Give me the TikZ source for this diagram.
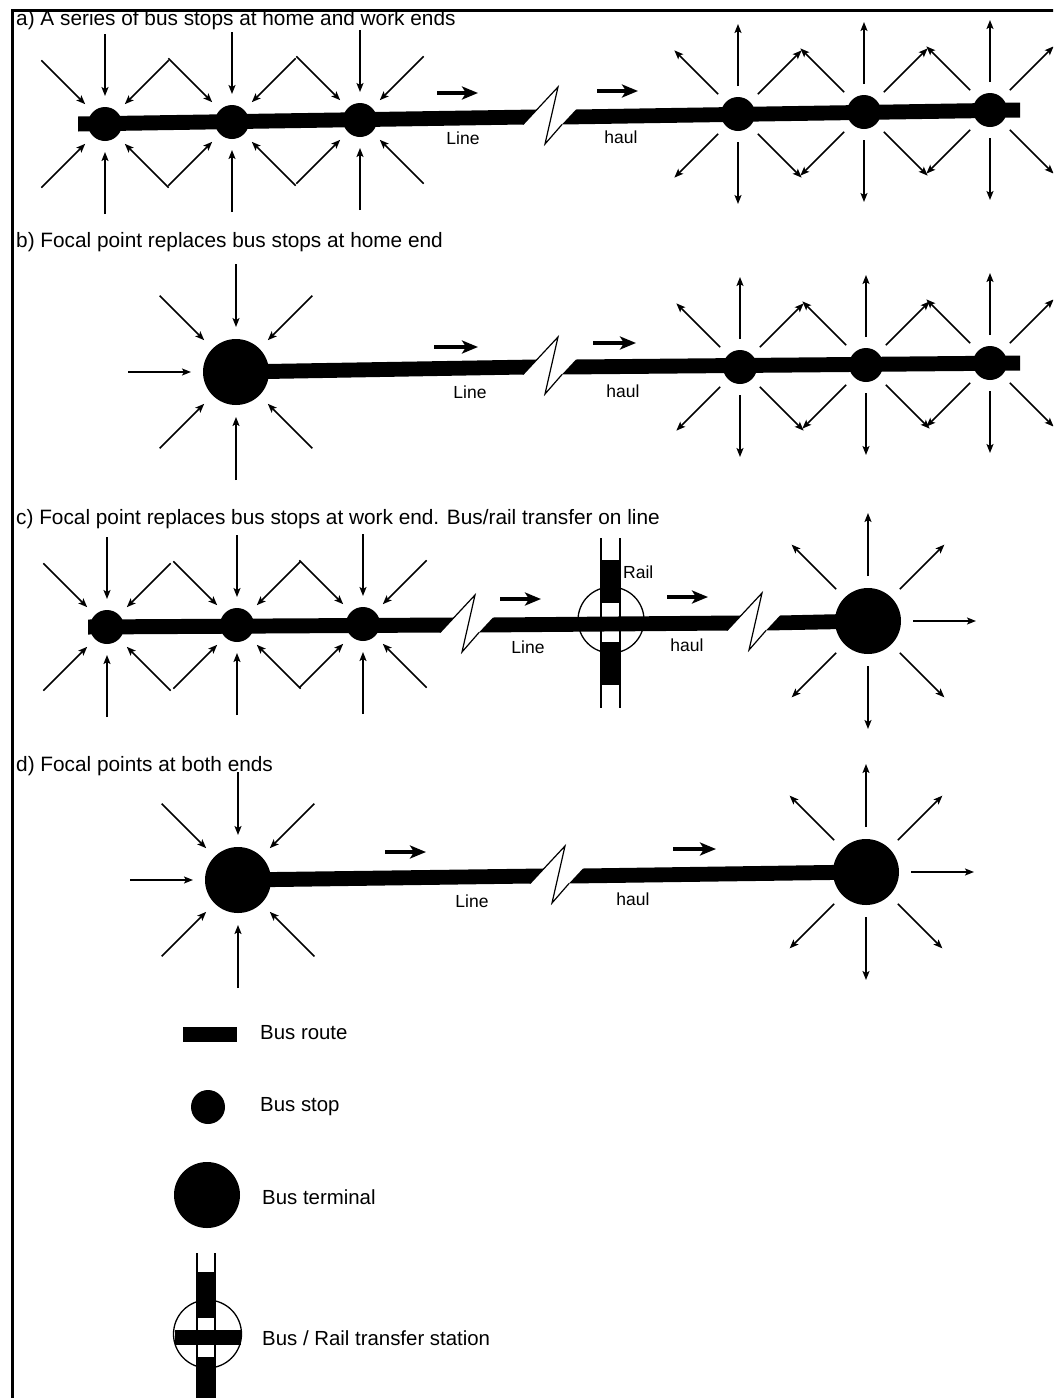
\documentclass[tikz,border=0pt]{standalone}
\usepackage{fontspec}
\setmainfont{Liberation Sans}
\usetikzlibrary{arrows.meta,calc}
\newcommand\spkin[4]{\foreach \a in {#2}{\draw[spoke] ($(#1)+(\a:#4)$) -- ($(#1)+(\a:#3)$);}}
\newcommand\spkout[4]{\foreach \a in {#2}{\draw[spoke] ($(#1)+(\a:#3)$) -- ($(#1)+(\a:#4)$);}}
% left piece ending at break: x0,y0,cx,y
\newcommand\leftpiece[4]{\fill (#1,#2-7.5) -- (#3-12,#4-7.5) -- (#3-26,#4+7.5) -- (#1,#2+7.5) -- cycle;}
% right piece starting at break: cx,y,x1,y1
\newcommand\rightpiece[4]{\fill (#1+27,#2-7.5) -- (#3,#4-7.5) -- (#3,#4+7.5) -- (#1+13,#2+7.5) -- cycle;}
% middle piece between two breaks: cx1,y1,cx2,y2
\newcommand\midpiece[4]{\fill (#1+27,#2-7.5) -- (#3-12,#4-7.5) -- (#3-26,#4+7.5) -- (#1+13,#2+7.5) -- cycle;}
% zigzag break symbol: cx,y
\newcommand\zigbreak[2]{\draw[zig] (#1-26,#2+7.5) -- (#1+9,#2-30) -- (#1-4,#2+27) -- (#1+13,#2+7.5);}
\begin{document}
\begin{tikzpicture}[x=1pt,y=-1pt,
  spoke/.style={line width=1.5pt,-{Stealth[length=9pt,width=7pt,inset=2pt]}},
  flow/.style={line width=4.5pt,-{Stealth[length=16pt,width=13pt,inset=4pt]}},
  stop/.style={circle,fill=black,inner sep=0pt,minimum size=34pt},
  terminal/.style={circle,fill=black,inner sep=0pt,minimum size=66pt},
  title/.style={anchor=base west,inner sep=0pt,font=\fontsize{20.8}{24}\selectfont},
  lbl/.style={inner sep=0pt,font=\fontsize{17.5}{20}\selectfont},
  legtext/.style={anchor=west,inner sep=0pt,font=\fontsize{20.4}{24}\selectfont},
  zig/.style={line width=1.2pt,line join=miter},
  rail/.style={line width=1.5pt},
]
\useasboundingbox (0,0) rectangle (1053,1398);
\clip (0,0) rectangle (1053,1398);
\fill[white] (0,0) rectangle (1053,1398);

% frame
\draw[line width=3pt] (12,1400) -- (12,10) -- (1055,10);

% ---------------- panel a ----------------
\node[title] (ta) at (16,25) {a) A series of bus stops at home and work ends};
\leftpiece{78}{124}{549}{117}
\zigbreak{549}{117}
\rightpiece{549}{117}{1020}{110}
\node[stop] (a1) at (105,124) {};
\node[stop] (a2) at (232,122) {};
\node[stop] (a3) at (360,120) {};
\node[stop] (a4) at (738,114) {};
\node[stop] (a5) at (864,112) {};
\node[stop] (a6) at (990,110) {};
\foreach \s in {a1,a2,a3} {\spkin{\s}{45,90,135,225,270,315}{28}{90}}
\foreach \s in {a4,a5,a6} {\spkout{\s}{45,90,135,225,270,315}{28}{90}}
\coordinate (fa1) at (437,93); \coordinate (fa2) at (478,93);
\coordinate (fa3) at (597,91); \coordinate (fa4) at (638,91);
\draw[flow] (fa1) -- (fa2);
\draw[flow] (fa3) -- (fa4);
\node[lbl] (la) at (463,138) {Line};
\node[lbl] (ha) at (621,137) {haul};

% ---------------- panel b ----------------
\node[title] (tb) at (16,247) {b) Focal point replaces bus stops at home end};
\node[terminal] (b0) at (236,372) {};
\leftpiece{236}{372}{549}{367}
\zigbreak{549}{367}
\rightpiece{549}{367}{1020}{363}
\node[stop] (b1) at (740,367) {};
\node[stop] (b2) at (866,365) {};
\node[stop] (b3) at (990,363) {};
\spkin{b0}{45,90,135,180,225,270,315}{45}{108}
\foreach \s in {b1,b2,b3} {\spkout{\s}{45,90,135,225,270,315}{28}{90}}
\coordinate (fb1) at (434,347); \coordinate (fb2) at (478,347);
\coordinate (fb3) at (593,343); \coordinate (fb4) at (636,343);
\draw[flow] (fb1) -- (fb2);
\draw[flow] (fb3) -- (fb4);
\node[lbl] (lb) at (470,392) {Line};
\node[lbl] (hb) at (623,391) {haul};

% ---------------- panel c ----------------
\node[title] (tc) at (16,524) {c) Focal point replaces bus stops at work end. Bus/rail transfer on line};
% rail transfer station
\draw[rail] (601,538) -- (601,708);
\draw[rail] (620,538) -- (620,708);
\fill (601,560) rectangle (620,603);
\fill (601,642) rectangle (620,685);
\node[circle,draw,line width=1.3pt,minimum size=66pt,inner sep=0pt] (rc) at (611,620) {};
\leftpiece{88}{627}{466}{625}
\zigbreak{466}{625}
\midpiece{466}{625}{753}{623}
\zigbreak{753}{623}
\rightpiece{753}{623}{868}{621}
\node[stop] (c1) at (107,627) {};
\node[stop] (c2) at (237,625) {};
\node[stop] (c3) at (363,624) {};
\node[terminal] (c0) at (868,621) {};
\foreach \s in {c1,c2,c3} {\spkin{\s}{45,90,135,225,270,315}{28}{90}}
\spkout{c0}{0,45,90,135,225,270,315}{45}{108}
\coordinate (fc1) at (500,599); \coordinate (fc2) at (541,599);
\coordinate (fc3) at (667,597); \coordinate (fc4) at (708,597);
\draw[flow] (fc1) -- (fc2);
\draw[flow] (fc3) -- (fc4);
\node[lbl] (lc) at (528,647) {Line};
\node[lbl] (hc) at (687,645) {haul};
\node[lbl,anchor=west] (rl) at (623,572) {Rail};

% ---------------- panel d ----------------
\node[title] (td) at (16,771) {d) Focal points at both ends};
\node[terminal] (d0) at (238,880) {};
\node[terminal] (d9) at (866,872) {};
\leftpiece{238}{880}{556}{876}
\zigbreak{556}{876}
\rightpiece{556}{876}{866}{872}
\spkin{d0}{45,90,135,180,225,270,315}{45}{108}
\spkout{d9}{0,45,90,135,225,270,315}{45}{108}
\coordinate (fd1) at (385,852); \coordinate (fd2) at (426,852);
\coordinate (fd3) at (673,849); \coordinate (fd4) at (716,849);
\draw[flow] (fd1) -- (fd2);
\draw[flow] (fd3) -- (fd4);
\node[lbl] (ld) at (472,901) {Line};
\node[lbl] (hd) at (633,899) {haul};

% ---------------- legend ----------------
\fill (183,1027) rectangle (237,1042);
\node[legtext] (k1) at (260,1033) {Bus route};
\node[stop] (k2s) at (208,1107) {};
\node[legtext] (k2) at (260,1107) {Bus stop};
\node[terminal] (k3s) at (207,1195) {};
\node[legtext] (k3) at (262,1197) {Bus terminal};
\draw[rail] (197,1253) -- (197,1400);
\draw[rail] (215,1253) -- (215,1400);
\fill (197,1272) rectangle (215,1318);
\fill (197,1357) rectangle (215,1400);
\node[circle,draw,line width=1.3pt,minimum size=68pt,inner sep=0pt] (k4s) at (207.5,1334) {};
\fill (175,1330) rectangle (241,1345);
\node[legtext] (k4) at (262,1338) {Bus / Rail transfer station};
\end{tikzpicture}
\end{document}
